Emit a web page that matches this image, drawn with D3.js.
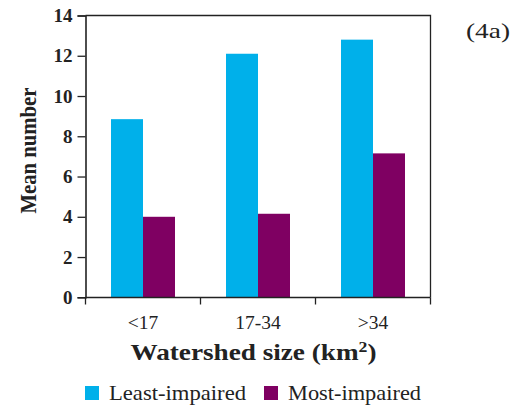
<!DOCTYPE html>
<html>
<head>
<meta charset="utf-8">
<script src="https://cdn.jsdelivr.net/npm/d3@7"></script>
<style>
  html, body { margin: 0; padding: 0; background: #fff; }
  svg { display: block; }
  text { font-family: "Liberation Serif", "Times New Roman", serif; fill: #222; }
</style>
</head>
<body>
<svg id="chart" width="511" height="407"></svg>
<script>
// Mean number by watershed size class
const categories = ["<17", "17-34", ">34"];
const seriesNames = ["Least-impaired", "Most-impaired"];
const leastImpaired = [8.85, 12.1, 12.8];
const mostImpaired = [4.0, 4.15, 7.15];
const yTicks = [0, 2, 4, 6, 8, 10, 12, 14];
const colors = ["#00b0ea", "#7f0062"];

const svg = d3.select("#chart");
const margin = { left: 85.5, right: 80.5, top: 15.5, bottom: 109.5 };
const W = 511, H = 407;
const x0 = margin.left, x1 = W - margin.right;
const y0 = H - margin.bottom, y1 = margin.top;

const x = d3.scaleBand().domain(categories).range([x0, x1]).paddingInner(0).paddingOuter(0);
const y = d3.scaleLinear().domain([0, 14]).range([y0 - 0.2, y1]);
const barW = 32;
const inner = d3.scaleBand().domain(seriesNames).range([0, barW * 2]);

const series = [leastImpaired, mostImpaired];

// bars
seriesNames.forEach((name, si) => {
  svg.append("g").selectAll("rect")
    .data(categories.map((c, i) => ({ c, v: series[si][i] })))
    .join("rect")
    .attr("x", d => x(d.c) + x.bandwidth() / 2 - barW + inner(name))
    .attr("y", d => y(d.v))
    .attr("width", inner.bandwidth())
    .attr("height", d => y(0) - y(d.v))
    .attr("fill", colors[si]);
});

// frame (top and right borders)
svg.append("path")
  .attr("d", `M${x0},${y1}H${x1}V${y0}`)
  .attr("fill", "none").attr("stroke", "#222").attr("stroke-width", 1.3);

// y axis
const yAxis = svg.append("g")
  .attr("transform", `translate(${x0},0)`)
  .call(d3.axisLeft(y).tickValues(yTicks).tickSize(8).tickPadding(5).tickFormat(d3.format("d")));
yAxis.select(".domain").attr("stroke", "#222").attr("stroke-width", 1.6);
yAxis.selectAll(".tick line").attr("stroke", "#222").attr("stroke-width", 1.3);
yAxis.selectAll(".tick text")
  .attr("font-family", "Liberation Serif, serif")
  .attr("font-size", 19).attr("font-weight", "bold").attr("fill", "#222");

// x axis: ticks at band boundaries, labels at band centres
const xAxisG = svg.append("g").attr("transform", `translate(0,${y0})`);
xAxisG.append("line").attr("x1", x0).attr("x2", x1).attr("stroke", "#222").attr("stroke-width", 1.6);
const boundaries = categories.map(c => x(c)).concat([x1]);
xAxisG.selectAll("line.tk").data(boundaries).join("line")
  .attr("class", "tk")
  .attr("x1", d => d).attr("x2", d => d).attr("y1", 0).attr("y2", 7)
  .attr("stroke", "#222").attr("stroke-width", 1.3);
xAxisG.selectAll("text").data(categories).join("text")
  .attr("x", d => x(d) + x.bandwidth() / 2)
  .attr("y", 31)
  .attr("text-anchor", "middle")
  .attr("font-size", 19.5)
  .text(d => d);

// axis titles
const xt = svg.append("text")
  .attr("x", 253.5).attr("y", 360)
  .attr("text-anchor", "middle")
  .attr("font-size", 23).attr("font-weight", "bold")
  .attr("textLength", 246).attr("lengthAdjust", "spacingAndGlyphs");
xt.append("tspan").text("Watershed size (km");
xt.append("tspan").attr("font-size", 15).attr("dy", -8).text("2");
xt.append("tspan").attr("dy", 8).text(")");

svg.append("text")
  .attr("transform", "translate(36,150.5) rotate(-90)")
  .attr("text-anchor", "middle")
  .attr("font-size", 23).attr("font-weight", "bold")
  .attr("textLength", 126).attr("lengthAdjust", "spacingAndGlyphs")
  .text("Mean number");

// panel label
svg.append("text")
  .attr("x", 466).attr("y", 38)
  .attr("font-size", 22)
  .attr("textLength", 44).attr("lengthAdjust", "spacingAndGlyphs")
  .text("(4a)");

// legend
const legendPos = [85, 264];
const legendWidths = [137, 133];
seriesNames.forEach((name, i) => {
  const g = svg.append("g").attr("transform", `translate(${legendPos[i]},386)`);
  g.append("rect").attr("width", 14).attr("height", 14).attr("fill", colors[i]);
  g.append("text").attr("x", 24).attr("y", 14).attr("font-size", 21)
    .attr("textLength", legendWidths[i]).attr("lengthAdjust", "spacingAndGlyphs")
    .text(name);
});
</script>
</body>
</html>
